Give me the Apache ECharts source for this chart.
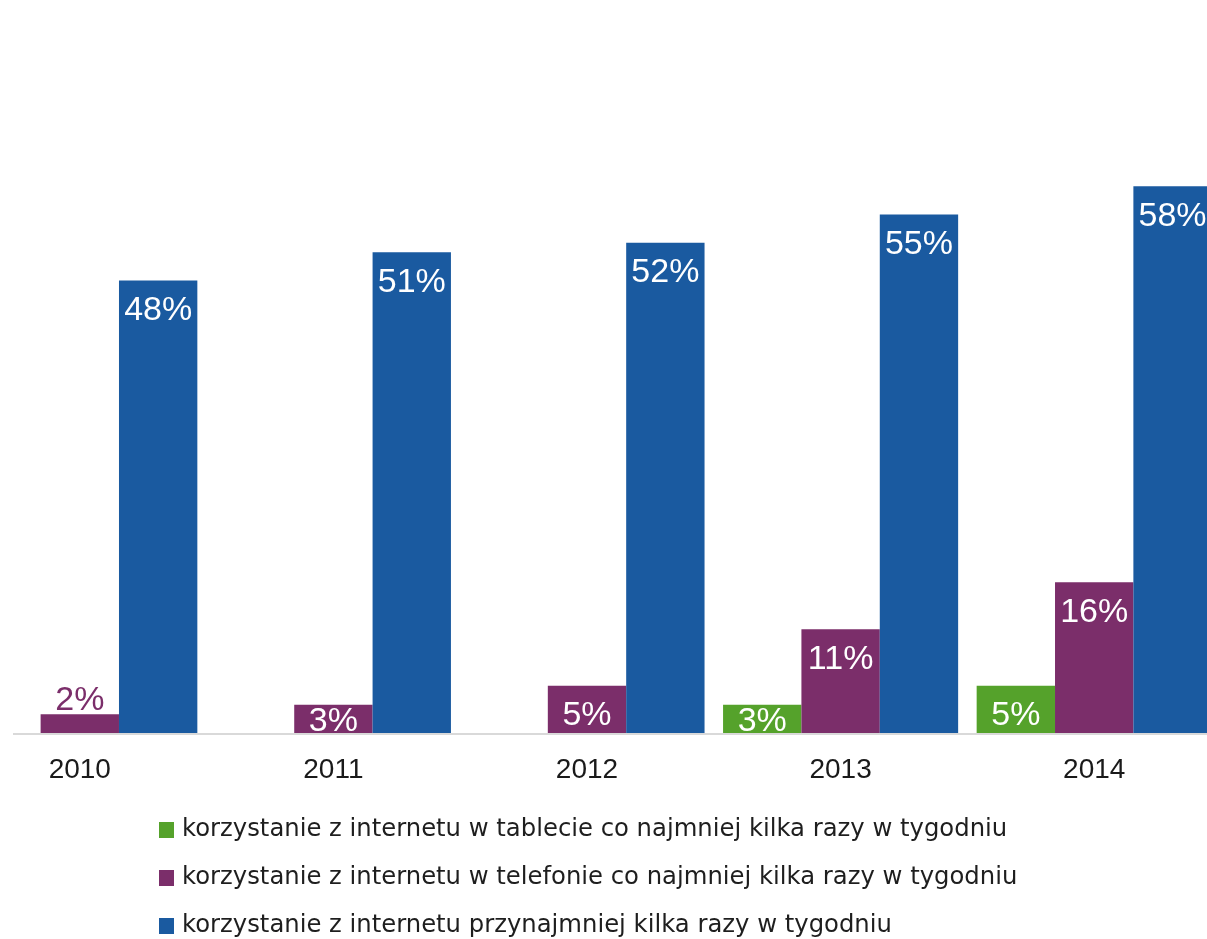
<!DOCTYPE html>
<html>
<head>
<meta charset="utf-8">
<script src="https://cdn.jsdelivr.net/npm/echarts@6/dist/echarts.min.js"></script>
<style>
  html, body { margin: 0; padding: 0; background: #ffffff; overflow: hidden; width: 1207px; height: 939px; position: relative; }
  /* the plot is wider than the page: first and last groups run past the edges */
  #chart { position: absolute; left: -47px; top: 0; width: 1268px; height: 1000px; }
</style>
</head>
<body>
<div id="chart"></div>
<script>
// Years on the category axis
const years = ['2010', '2011', '2012', '2013', '2014'];

// Series names (legend)
const seriesNames = [
  'korzystanie z internetu w tablecie co najmniej kilka razy w tygodniu',
  'korzystanie z internetu w telefonie co najmniej kilka razy w tygodniu',
  'korzystanie z internetu przynajmniej kilka razy w tygodniu'
];

// Shares in percent; null = no data for that year
const tabletWeekly = [null, null, null, 3, 5];
const phoneWeekly = [2, 3, 5, 11, 16];
const internetWeekly = [48, 51, 52, 55, 58];

const GREEN = '#55a22b';
const PURPLE = '#7b2e6a';
const BLUE = '#1a5aa0';
const FONT = '"Liberation Sans", Arial, sans-serif';
const LEGEND_FONT = '"DejaVu Sans", sans-serif';
const SHIFT = 47; // horizontal offset of the chart box relative to the page

const insideLabel = {
  show: true,
  position: 'insideTop',
  distance: 13,
  color: '#ffffff',
  fontSize: 34,
  fontFamily: FONT,
  formatter: p => p.value + '%'
};

// Very small bars: label above the bar in the bar colour, or squeezed to the top
function toData(values, color) {
  return values.map(v => {
    if (v === null) return '-';
    if (v <= 2) {
      return { value: v, label: { position: 'top', distance: -3, color: color } };
    }
    if (v <= 3) {
      return { value: v, label: { distance: 0 } };
    }
    return v;
  });
}

const chart = echarts.init(document.getElementById('chart'));

const option = {
  animation: false,
  backgroundColor: '#ffffff',
  textStyle: { fontFamily: FONT },
  grid: { left: 0, right: 0, top: 73, bottom: 267, containLabel: false },
  legend: {
    orient: 'vertical',
    left: 159 + SHIFT,
    top: 818,
    padding: 0,
    icon: 'rect',
    itemWidth: 15,
    itemHeight: 16,
    itemGap: 24,
    textStyle: {
      fontSize: 24.3,
      lineHeight: 24,
      color: '#1e1e1e',
      fontFamily: LEGEND_FONT,
      padding: [0, 0, 0, 3]
    },
    data: seriesNames
  },
  xAxis: {
    type: 'category',
    data: years,
    axisLine: { show: false },
    axisTick: { show: false },
    axisLabel: { fontSize: 28, color: '#1a1a1a', margin: 23, fontFamily: FONT },
    splitLine: { show: false }
  },
  yAxis: {
    type: 'value',
    min: 0,
    max: 70,
    show: false,
    splitLine: { show: false }
  },
  series: [
    {
      name: seriesNames[0],
      type: 'bar',
      barGap: '0%',
      barCategoryGap: '7.3%',
      itemStyle: { color: GREEN },
      label: insideLabel,
      data: toData(tabletWeekly, GREEN)
    },
    {
      name: seriesNames[1],
      type: 'bar',
      barGap: '0%',
      barCategoryGap: '7.3%',
      itemStyle: { color: PURPLE },
      label: insideLabel,
      data: toData(phoneWeekly, PURPLE)
    },
    {
      name: seriesNames[2],
      type: 'bar',
      barGap: '0%',
      barCategoryGap: '7.3%',
      itemStyle: { color: BLUE },
      label: insideLabel,
      data: toData(internetWeekly, BLUE)
    }
  ]
};

chart.setOption(option);

// Baseline at the zero value of the y axis, starting a little inside the page's left edge
const baseY = chart.convertToPixel({ yAxisIndex: 0 }, 0);
chart.setOption({
  graphic: [{
    type: 'line',
    z: 100,
    shape: { x1: 13 + SHIFT, y1: baseY + 1, x2: 1207 + SHIFT, y2: baseY + 1 },
    style: { stroke: '#d9d9d9', lineWidth: 2 }
  }]
});
</script>
</body>
</html>
